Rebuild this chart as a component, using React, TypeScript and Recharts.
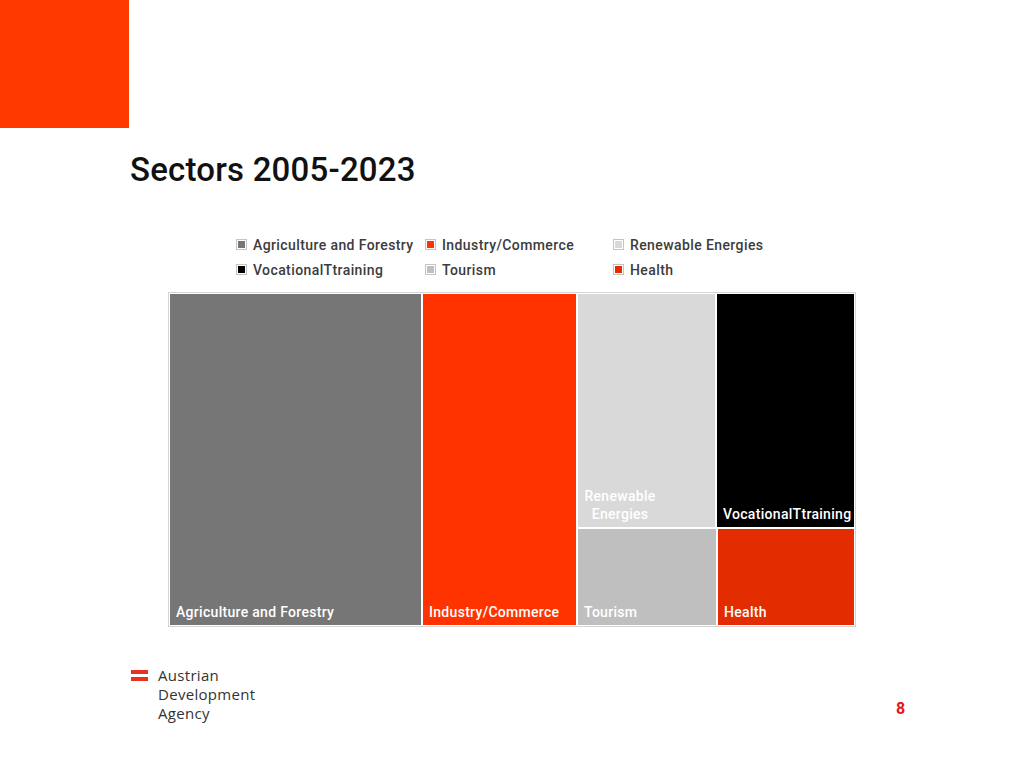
import { Treemap } from "recharts";

const sectors = [
  "Agriculture and Forestry",
  "Industry/Commerce",
  "Renewable Energies",
  "VocationalTtraining",
  "Tourism",
  "Health",
];
const shares = [36.9, 22.6, 14.3, 14.3, 6.0, 6.0];
const sectorColors = ["#767676", "#ff3300", "#d9d9d9", "#000000", "#bfbfbf", "#e32d00"];
const cellLabels = [
  ["Agriculture and Forestry"],
  ["Industry/Commerce"],
  ["Renewable", "Energies"],
  ["VocationalTtraining"],
  ["Tourism"],
  ["Health"],
];

const treeData = sectors.map((name, i) => ({ name, size: shares[i] }));

const font = "Roboto, 'Noto Sans', sans-serif";

function SectorCell(props: any) {
  const { x, y, width, height, depth, name } = props;
  if (depth !== 1) return null;
  const i = sectors.indexOf(name);
  const lines = cellLabels[i];
  const bottom = y + height - 9;
  const multi = lines.length > 1;
  return (
    <g>
      <rect x={x} y={y} width={width} height={height} fill={sectorColors[i]} stroke="#fff" strokeWidth={2} />
      <text
        x={multi ? x + 43 : x + 7}
        fill="#fff"
        fontSize={14}
        fontWeight={500}
        fontFamily={font}
        letterSpacing={0.3}
        textAnchor={multi ? "middle" : "start"}
      >
        {lines.map((line, k) => (
          <tspan key={line} x={multi ? x + 43 : x + 7} y={bottom - (lines.length - 1 - k) * 18}>
            {line}
          </tspan>
        ))}
      </text>
    </g>
  );
}

function Legend() {
  return (
    <div
      style={{
        position: "absolute",
        left: 236,
        top: 236,
        display: "grid",
        gridTemplateColumns: "189px 188px 200px",
        rowGap: 8,
        fontFamily: font,
        fontSize: 14,
        fontWeight: 500,
        letterSpacing: 0.4,
        color: "#3c3c3c",
      }}
    >
      {sectors.map((name, i) => (
        <div key={name} style={{ display: "flex", alignItems: "center", height: 17 }}>
          <span
            style={{
              width: 9,
              height: 9,
              background: sectorColors[i],
              border: "1px solid #c4c4c4",
              boxShadow: "inset 0 0 0 1px #fff",
              marginRight: 6,
            }}
          />
          {name}
        </div>
      ))}
    </div>
  );
}

export default function App() {
  return (
    <div style={{ position: "absolute", left: 0, top: 0, width: 1024, height: 768, background: "#fff", overflow: "hidden" }}>
      <div style={{ position: "absolute", left: 0, top: 0, width: 129, height: 128, background: "#ff3a00" }} />
      <div
        style={{
          position: "absolute",
          left: 130,
          top: 152,
          fontFamily: font,
          fontSize: 33,
          fontWeight: 500,
          lineHeight: "36px",
          letterSpacing: 0.2,
          color: "#111",
        }}
      >
        Sectors 2005-2023
      </div>
      <Legend />
      <div
        style={{
          position: "absolute",
          left: 168,
          top: 292,
          width: 688,
          height: 335,
          boxSizing: "border-box",
          border: "1px solid #d4d4d4",
        }}
      >
        <Treemap
          width={686}
          height={333}
          data={treeData}
          dataKey="size"
          nameKey="name"
          aspectRatio={0.9}
          isAnimationActive={false}
          content={<SectorCell />}
        />
      </div>
      <div style={{ position: "absolute", left: 131, top: 670, width: 17 }}>
        <div style={{ height: 4, background: "#e8321e" }} />
        <div style={{ height: 3 }} />
        <div style={{ height: 4, background: "#e8321e" }} />
      </div>
      <div
        style={{
          position: "absolute",
          left: 158,
          top: 666,
          fontFamily: "'Open Sans', sans-serif",
          fontSize: 15,
          lineHeight: "19px",
          color: "#333",
          letterSpacing: 0.3,
        }}
      >
        <div>Austrian</div>
        <div>Development</div>
        <div>Agency</div>
      </div>
      <div
        style={{
          position: "absolute",
          left: 896,
          top: 699,
          fontFamily: font,
          fontSize: 16,
          fontWeight: 700,
          lineHeight: "20px",
          color: "#e8141c",
        }}
      >
        8
      </div>
    </div>
  );
}
